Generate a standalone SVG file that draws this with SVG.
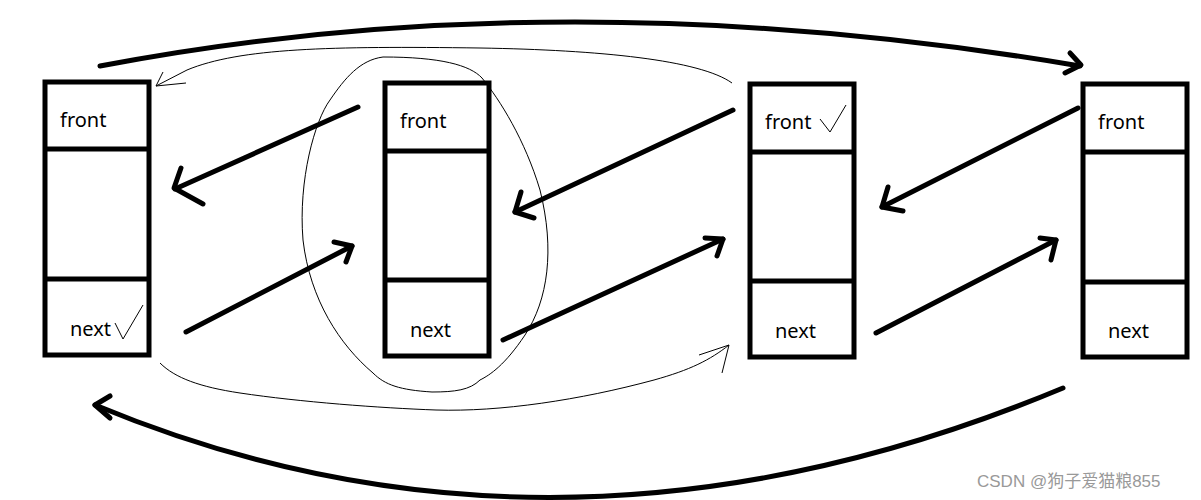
<svg xmlns="http://www.w3.org/2000/svg" width="1201" height="500" viewBox="0 0 1201 500">
<style>
.box{fill:#fff;stroke:#000;stroke-width:5}
.div{stroke:#000;stroke-width:5}
.lbl{font-family:"Noto Sans","Liberation Sans",sans-serif;font-size:20px;fill:#000}
.thick{fill:none;stroke:#000;stroke-width:5;stroke-linecap:round;stroke-linejoin:round}
.thin{fill:none;stroke:#000;stroke-width:1}
.wm{font-family:"Liberation Sans","Noto Sans CJK SC",sans-serif;font-size:17px;fill:#999}
</style>
<rect width="1201" height="500" fill="#fff"/>
<g id="node1">
<rect class="box" x="45" y="82" width="104" height="273"/>
<line class="div" x1="45" y1="149" x2="149" y2="149"/>
<line class="div" x1="45" y1="279" x2="149" y2="279"/>
<text class="lbl" x="60" y="127">front</text>
<text class="lbl" x="70" y="336">next</text>
<polyline class="thin" points="115,323 123,339 143,305"/>
</g>
<g id="node2">
<rect class="box" x="385" y="83" width="104" height="273"/>
<line class="div" x1="385" y1="151" x2="489" y2="151"/>
<line class="div" x1="385" y1="280" x2="489" y2="280"/>
<text class="lbl" x="400" y="128">front</text>
<text class="lbl" x="410" y="337">next</text>
</g>
<g id="node3">
<rect class="box" x="750" y="84" width="104" height="273"/>
<line class="div" x1="750" y1="152" x2="854" y2="152"/>
<line class="div" x1="750" y1="281" x2="854" y2="281"/>
<text class="lbl" x="765" y="129">front</text>
<text class="lbl" x="775" y="338">next</text>
<polyline class="thin" points="820,119 830,132 846,105"/>
</g>
<g id="node4">
<rect class="box" x="1083" y="84" width="104" height="273"/>
<line class="div" x1="1083" y1="152" x2="1187" y2="152"/>
<line class="div" x1="1083" y1="282" x2="1187" y2="282"/>
<text class="lbl" x="1098" y="129">front</text>
<text class="lbl" x="1108" y="338">next</text>
</g>
<g id="connectors">
<path class="thick" d="M100,66 Q560,-22 1080,66"/>
<polyline class="thick" points="1070,53 1081,65 1065,73"/>
<path class="thick" d="M1063,388 Q560,598 95,405"/>
<polyline class="thick" points="110,396 95,405 110,418"/>
<line class="thick" x1="358" y1="107" x2="175" y2="189"/>
<polyline class="thick" points="181,168 174,188 203,204"/>
<line class="thick" x1="186" y1="332" x2="352" y2="246"/>
<polyline class="thick" points="334,242 352,246 346,262"/>
<line class="thick" x1="733" y1="110" x2="515" y2="212"/>
<polyline class="thick" points="521,192 515,212 534,218"/>
<line class="thick" x1="503" y1="340" x2="723" y2="239"/>
<polyline class="thick" points="705,238 723,239 717,256"/>
<line class="thick" x1="1078" y1="108" x2="882" y2="207"/>
<polyline class="thick" points="888,187 882,207 903,211"/>
<line class="thick" x1="876" y1="333" x2="1056" y2="240"/>
<polyline class="thick" points="1040,238 1056,240 1051,260"/>
<path class="thin" d="M732,83 C700,60 600,50 480,48 C330,46 240,48 187,70 L156,86"/>
<polyline class="thin" points="163,72 156,86 186,83"/>
<path class="thin" d="M160,363 C175,378 200,387 240,393 C300,402 380,408 436,410 C500,412 580,400 654,380 C690,370 710,360 729,345"/>
<polyline class="thin" points="699,355 729,345 722,373"/>
<path class="thin" d="M383,57 C440,57 470,65 482,78 C500,100 525,140 540,190 C555,250 548,300 525,335 C505,365 490,375 480,380 C470,390 455,392 432,392 C400,390 385,385 373,373 C340,345 310,300 303,240 C298,180 315,120 330,100 C345,78 360,60 383,57 Z"/>
</g>
<text class="wm" x="977" y="487">CSDN @狗子爱猫粮855</text>
</svg>
